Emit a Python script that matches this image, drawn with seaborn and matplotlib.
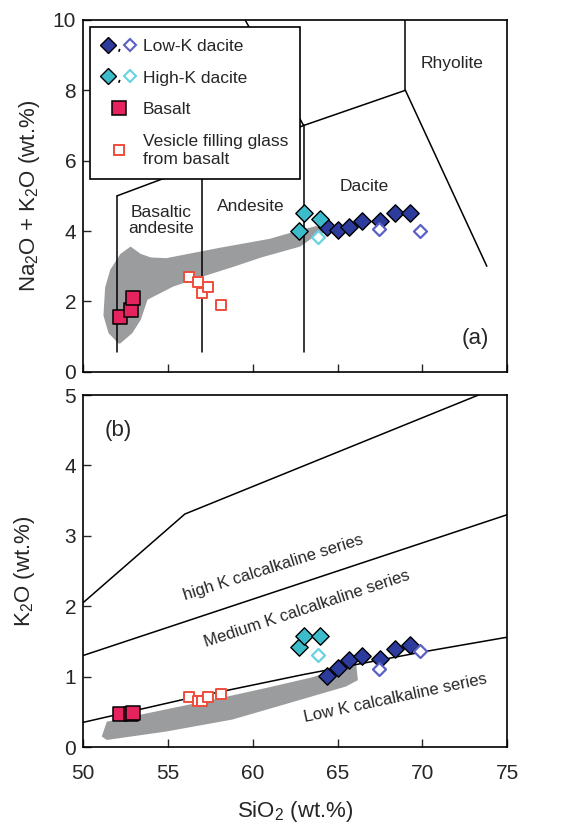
import matplotlib
matplotlib.use("Agg")
import matplotlib.pyplot as plt
from matplotlib.lines import Line2D
from matplotlib.path import Path
from matplotlib.legend_handler import HandlerTuple
import numpy as np
import pandas as pd
import seaborn as sns

sns.set_style("ticks")
plt.rcParams["font.family"] = ["Liberation Sans", "DejaVu Sans"]
plt.rcParams["mathtext.fontset"] = "custom"
plt.rcParams["mathtext.rm"] = "Liberation Sans"
plt.rcParams["mathtext.it"] = "Liberation Sans:italic"

# ---- data ----
lowk_sio2 = [64.4, 65.0, 65.7, 66.45, 67.5, 68.4, 69.25]
lowk_tas = [4.12, 4.03, 4.12, 4.29, 4.29, 4.52, 4.52]
lowk_k2o = [1.01, 1.12, 1.23, 1.29, 1.25, 1.39, 1.45]

lowk_open_sio2 = [67.45, 69.85]
lowk_open_tas = [4.05, 4.01]
lowk_open_k2o = [1.11, 1.36]

highk_sio2 = [62.75, 63.05, 63.95]
highk_tas = [4.0, 4.52, 4.34]
highk_k2o = [1.42, 1.57, 1.57]

highk_open_sio2 = [63.85]
highk_open_tas = [3.82]
highk_open_k2o = [1.31]

basalt_sio2 = [52.2, 52.8, 52.95]
basalt_tas = [1.56, 1.75, 2.10]
basalt_k2o = [0.47, 0.47, 0.49]

glass_sio2 = [56.27, 56.8, 57.0, 57.35, 58.13]
glass_tas = [2.70, 2.56, 2.23, 2.40, 1.91]
glass_k2o = [0.71, 0.65, 0.66, 0.71, 0.76]

# grey fields
field_a_x = [52.1, 51.5, 51.2, 51.3, 51.6, 52.2, 52.8, 53.4, 54.0, 54.9, 58.0, 61.0, 62.8, 64.4, 65.0,
             63.5, 62.8, 60.5, 58.9, 57.0, 55.3, 53.8, 53.4, 52.9, 52.2]
field_a_y = [0.8, 1.1, 1.6, 2.4, 2.9, 3.35, 3.56, 3.35, 3.25, 3.23, 3.52, 3.78, 4.03, 4.22, 4.13,
             3.8, 3.56, 3.25, 2.99, 2.7, 2.42, 2.05, 1.48, 1.1, 0.81]
field_b_x = [51.1, 51.4, 53.0, 55.0, 58.0, 61.0, 63.5, 64.7, 66.1, 66.2, 65.5, 62.8,
             58.8, 54.9, 51.4]
field_b_y = [0.15, 0.36, 0.44, 0.54, 0.69, 0.85, 0.99, 1.08, 1.17, 0.95, 0.86, 0.67,
             0.39, 0.22, 0.10]

# TAS boundary segments
tas_lines = [
    ([52, 52], [0.55, 5.0]),
    ([57, 57], [0.55, 5.9]),
    ([63, 63], [0.55, 7.0]),
    ([52, 57, 63, 69], [5.0, 5.9, 7.0, 8.0]),
    ([63, 57.6], [7.0, 11.7]),
    ([69, 69], [8.0, 13.0]),
    ([69, 73.8], [8.0, 3.0]),
]
tas_names = ["Basaltic\nandesite", "Andesite", "Dacite", "Rhyolite"]
tas_name_x = [54.6, 59.9, 66.6, 71.75]
tas_name_y = [4.3, 4.7, 5.27, 8.77]

# K2O series boundaries
lowk_line_x = [50, 56, 63, 70, 75]
lowk_line_y = [0.35, 0.68, 1.03, 1.35, 1.56]
medk_line_x = [50, 75]
medk_line_y = [1.3, 3.3]
highk_line_x = [50, 56, 73.3, 75]
highk_line_y = [2.05, 3.31, 5.0, 5.17]
series_names = ["high K calcalkaline series", "Medium K calcalkaline series",
                "Low K calcalkaline series"]
series_x = [61.2, 63.2, 68.4]
series_y = [2.55, 1.96, 0.70]
series_rot = [17.5, 18.3, 12.0]

# ---- styles ----
c_lowk = "#2c3b9c"
c_lowk_open = "#5a60c4"
c_highk = "#3cbccb"
c_highk_open = "#66d2e2"
c_basalt = "#e5245f"
c_glass = "#f04c3a"
c_field = "#9b9c9e"

groups = [
    dict(x=lowk_sio2, a=lowk_tas, b=lowk_k2o, marker="D", s=78, fc=c_lowk, ec="black", lw=1.0),
    dict(x=lowk_open_sio2, a=lowk_open_tas, b=lowk_open_k2o, marker="D", s=44, fc="white", ec=c_lowk_open, lw=1.6),
    dict(x=highk_sio2, a=highk_tas, b=highk_k2o, marker="D", s=78, fc=c_highk, ec="black", lw=1.0),
    dict(x=highk_open_sio2, a=highk_open_tas, b=highk_open_k2o, marker="D", s=44, fc="white", ec=c_highk_open, lw=1.6),
    dict(x=basalt_sio2, a=basalt_tas, b=basalt_k2o, marker="s", s=100, fc=c_basalt, ec="black", lw=1.1),
    dict(x=glass_sio2, a=glass_tas, b=glass_k2o, marker="s", s=58, fc="white", ec=c_glass, lw=1.4),
]

fig = plt.figure(figsize=(5.77, 8.30), dpi=100)
ax1 = fig.add_axes([0.144, 0.552, 0.735, 0.424])
ax2 = fig.add_axes([0.144, 0.100, 0.735, 0.424])

ax1.fill(field_a_x, field_a_y, color=c_field, lw=0, zorder=1)
ax2.fill(field_b_x, field_b_y, color=c_field, lw=0, zorder=1)

for xs, ys in tas_lines:
    ax1.plot(xs, ys, color="black", lw=1.1, zorder=2)
for xs, ys in [(lowk_line_x, lowk_line_y), (medk_line_x, medk_line_y), (highk_line_x, highk_line_y)]:
    ax2.plot(xs, ys, color="black", lw=1.1, zorder=2)

for g in groups:
    df = pd.DataFrame({"sio2": g["x"], "tas": g["a"], "k2o": g["b"]})
    for ax, col in [(ax1, "tas"), (ax2, "k2o")]:
        sns.scatterplot(data=df, x="sio2", y=col, ax=ax, marker=g["marker"], s=g["s"],
                        color=g["fc"], edgecolor=g["ec"], linewidth=g["lw"], zorder=4,
                        legend=False)

for name, x, y in zip(tas_names, tas_name_x, tas_name_y):
    ax1.text(x, y, name, ha="center", va="center", fontsize=12.5, linespacing=1.05, zorder=3)
for name, x, y, r in zip(series_names, series_x, series_y, series_rot):
    ax2.text(x, y, name, ha="center", va="center", fontsize=12, rotation=r, zorder=3)

ax1.text(73.1, 0.95, "(a)", ha="center", va="center", fontsize=16)
ax2.text(52.1, 4.5, "(b)", ha="center", va="center", fontsize=16)

for ax in (ax1, ax2):
    ax.set_xlim(50, 75)
    ax.set_xticks([50, 55, 60, 65, 70, 75])
    ax.tick_params(direction="in", length=6, width=1.0, labelsize=15, pad=5)
    ax.tick_params(axis="x", pad=12)
    for sp in ax.spines.values():
        sp.set_linewidth(1.2)
        sp.set_color("black")
    ax.set_xlabel("")

ax1.set_ylim(0, 10)
ax1.set_yticks([0, 2, 4, 6, 8, 10])
ax1.tick_params(axis="x", labelbottom=False)
ax1.set_ylabel("Na$_2$O + K$_2$O (wt.%)", fontsize=16, labelpad=8)

ax2.set_ylim(0, 5)
ax2.set_yticks([0, 1, 2, 3, 4, 5])
ax2.set_ylabel("K$_2$O (wt.%)", fontsize=16, labelpad=20)
ax2.set_xlabel("SiO$_2$ (wt.%)", fontsize=16, labelpad=12)


def mk(marker, size, fc, ec, lw):
    return Line2D([], [], ls="none", marker=marker, markersize=size,
                  markerfacecolor=fc, markeredgecolor=ec, markeredgewidth=lw)


# small comma sitting low between the two diamonds
comma_path = Path([(0.05, -0.55), (-0.12, -1.0), (0.0, 1.0)],
                  [Path.MOVETO, Path.LINETO, Path.MOVETO])
comma = Line2D([], [], ls="none", marker=comma_path, markersize=9,
               markerfacecolor="none", markeredgecolor="black", markeredgewidth=1.2)
handles = [
    (mk("D", 8, c_lowk, "black", 1.0), comma, mk("D", 6.5, "white", c_lowk_open, 1.5)),
    (mk("D", 8, c_highk, "black", 1.0), comma, mk("D", 6.5, "white", c_highk_open, 1.5)),
    mk("s", 10, c_basalt, "black", 1.1),
    mk("s", 7.5, "white", c_glass, 1.4),
]
labels = ["Low-K dacite", "High-K dacite", "Basalt", "Vesicle filling glass\nfrom basalt"]
leg = ax1.legend(handles, labels, loc="upper left", bbox_to_anchor=(0.016, 0.981),
                 handler_map={tuple: HandlerTuple(ndivide=None, pad=0.0)},
                 fontsize=12.5, frameon=True, fancybox=False, framealpha=1,
                 edgecolor="black", handlelength=1.9, handletextpad=0.45,
                 borderpad=0.7, labelspacing=0.95, borderaxespad=0)
leg.get_frame().set_linewidth(1.2)
leg.get_texts()[3].set_linespacing(1.3)
leg.set_zorder(5)

fig.savefig("out.png", dpi=100)
